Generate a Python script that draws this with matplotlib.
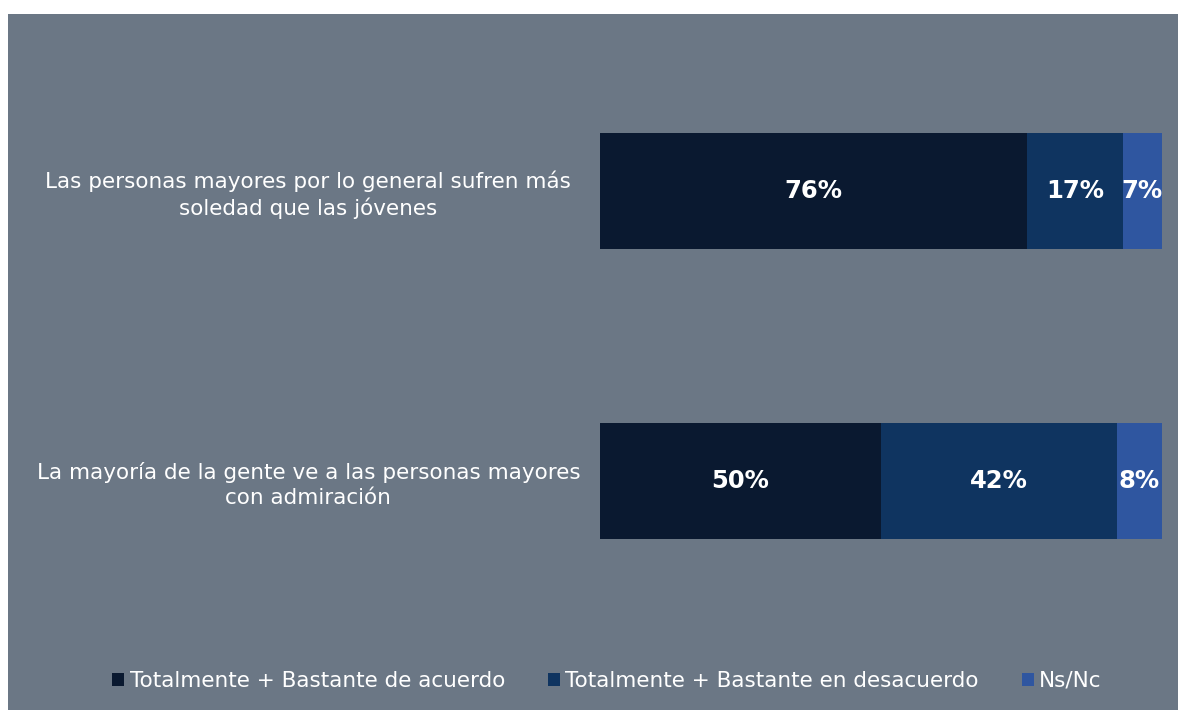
import matplotlib.pyplot as plt
from matplotlib.patches import Rectangle

# Survey data (percentages)
statements = ['Las personas mayores por lo general sufren más\nsoledad que las jóvenes',
              'La mayoría de la gente ve a las personas mayores\ncon admiración']
agree = [76, 50]
disagree = [17, 42]
nsnc = [7, 8]
series_names = ['Totalmente + Bastante de acuerdo',
                'Totalmente + Bastante en desacuerdo',
                'Ns/Nc']
colors = ['#0a1930', '#0f3460', '#2f56a0']
bg = '#6b7785'

W, H = 1178, 710
fig = plt.figure(figsize=(W / 100, H / 100), dpi=100)
fig.patch.set_facecolor('white')
fig.patches.append(Rectangle((8 / W, 0), 1 - 8 / W, 1 - 14 / H, transform=fig.transFigure,
                             facecolor=bg, edgecolor='none', zorder=-1))

ax = fig.add_axes([600 / W, 1 - 625.5 / H, 562 / W, 580 / H])
ax.set_facecolor('none')

ypos = list(range(len(statements)))
left = [0] * len(statements)
for vals, c, name in zip([agree, disagree, nsnc], colors, series_names):
    bars = ax.barh(ypos, vals, left=left, height=0.4, color=c, label=name)
    for b, v in zip(bars, vals):
        ax.text(b.get_x() + b.get_width() / 2, b.get_y() + b.get_height() / 2, f'{v}%',
                ha='center', va='center', color='white', fontsize=17.5, fontweight='bold')
    left = [l + v for l, v in zip(left, vals)]

ax.set_xlim(0, 100)
ax.set_ylim(1.5, -0.5)
ax.set_xticks([])
ax.set_yticks(ypos)
ax.set_yticklabels(statements, fontsize=15.5, color='white', ha='center', linespacing=1.3)
ax.tick_params(axis='y', length=0, pad=210)
for s in ax.spines.values():
    s.set_visible(False)

handles, labels = ax.get_legend_handles_labels()
fig.legend(handles, labels, loc='center', bbox_to_anchor=(607 / W, 1 - 681 / H), ncol=3,
           frameon=False, fontsize=15.5, labelcolor='white', handlelength=0.55,
           handleheight=0.55, handletextpad=0.25, columnspacing=2.0)

fig.savefig('out.png', dpi=100, facecolor=fig.get_facecolor())
